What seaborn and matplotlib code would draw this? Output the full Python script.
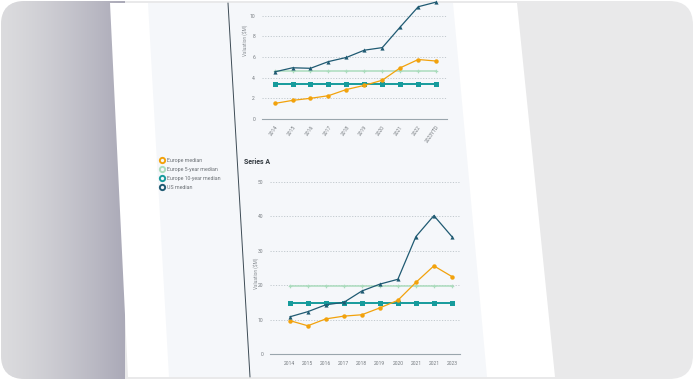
import matplotlib
matplotlib.use("Agg")
import numpy as np
import pandas as pd
import seaborn as sns
import matplotlib.pyplot as plt
from matplotlib.patches import Polygon, FancyBboxPatch
from matplotlib.lines import Line2D

# ---------------- data ----------------
series_names = ["Europe median", "Europe 5-year median", "Europe 10-year median", "US median"]

seed_years = ["2014", "2015", "2016", "2017", "2018", "2019", "2020", "2021", "2022", "2023YTD"]
seed_europe = [1.5, 1.8, 2.0, 2.25, 2.85, 3.25, 3.75, 4.95, 5.75, 5.6]
seed_europe_5y = [4.65, 4.65, 4.65, 4.65, 4.65, 4.65, 4.65, 4.65, 4.65, 4.65]
seed_europe_10y = [3.4, 3.4, 3.4, 3.4, 3.4, 3.4, 3.4, 3.4, 3.4, 3.4]
seed_us = [4.55, 4.95, 4.9, 5.55, 5.95, 6.65, 6.9, 8.9, 10.85, 11.3]
seed_yticks = [0, 2, 4, 6, 8, 10]

a_years = ["2014", "2015", "2016", "2017", "2018", "2019", "2020", "2021", "2021", "2023"]
a_europe = [9.7, 8.2, 10.2, 11.0, 11.4, 13.4, 15.6, 20.8, 25.6, 22.5]
a_europe_5y = [19.7, 19.7, 19.7, 19.7, 19.7, 19.7, 19.7, 19.7, 19.7, 19.7]
a_europe_10y = [14.8, 14.8, 14.8, 14.8, 14.8, 14.8, 14.8, 14.8, 14.8, 14.8]
a_us = [10.8, 12.3, 14.3, 15.0, 18.3, 20.3, 21.7, 34.1, 40.2, 34.1]
a_yticks = [0, 10, 20, 30, 40, 50]

panel_title = "Series A"
y_label = "Valuation ($M)"

# ---------------- styles ----------------
colors = {"Europe median": "#f2a20c", "Europe 5-year median": "#abdcbd",
          "Europe 10-year median": "#169b9c", "US median": "#1f5a72"}
markers = {"Europe median": "o", "Europe 5-year median": "P",
           "Europe 10-year median": "s", "US median": "^"}
msizes = {"Europe median": 3.2, "Europe 5-year median": 2.6,
          "Europe 10-year median": 3.6, "US median": 3.0}
lwidths = {"Europe median": 0.9, "Europe 5-year median": 1.1,
           "Europe 10-year median": 1.4, "US median": 0.9}
zorders = {"Europe median": 4, "Europe 5-year median": 2,
           "Europe 10-year median": 3, "US median": 5}


def long_df(labels, vals):
    rows = []
    for name, v in zip(series_names, vals):
        for i, (lab, y) in enumerate(zip(labels, v)):
            rows.append({"pos": i, "year": lab, "series": name, "value": y})
    return pd.DataFrame(rows)


seed_df = long_df(seed_years, [seed_europe, seed_europe_5y, seed_europe_10y, seed_us])
a_df = long_df(a_years, [a_europe, a_europe_5y, a_europe_10y, a_us])

sns.set_theme(style="white")
plt.rcParams["font.family"] = ["Roboto", "DejaVu Sans"]

W, H = 694, 380
fig = plt.figure(figsize=(W / 100, H / 100), dpi=100, facecolor="white")


def fx(px):
    return px / W


def fy(py):
    return 1 - py / H


# ---------------- background (photo of page) ----------------
bg = fig.add_axes([0, 0, 1, 1], zorder=-10)
bg.set_xlim(0, W)
bg.set_ylim(H, 0)
bg.axis("off")
frame = FancyBboxPatch((1, 1), W - 2, H - 2, boxstyle="round,pad=0,rounding_size=24",
                       fc="#e9e9ea", ec="none")
bg.add_patch(frame)
n = 120
c0 = np.array([0.86, 0.86, 0.87])
c1 = np.array([0.67, 0.665, 0.72])
t = np.linspace(0, 1, n) ** 1.3
grad = (c0[None, :] * (1 - t[:, None]) + c1[None, :] * t[:, None])[None, :, :]
im = bg.imshow(grad, extent=(0, 125, H, 0), aspect="auto", zorder=1)
im.set_clip_path(frame)
page = Polygon([(110, 3), (517, 3), (555, 377), (128, 377)], closed=True, fc="white", ec="none", zorder=2)
bg.add_patch(page)
page.set_clip_path(frame)
panel = Polygon([(148, 3), (453, 3), (487, 377), (169, 377)], closed=True, fc="#f5f7fa", ec="none", zorder=3)
bg.add_patch(panel)
bg.plot([228, 250], [3, 377], color="#3d4b55", lw=0.7, zorder=4)


def draw(ax, df, labels, yticks, ylim, xlim):
    for name in series_names:
        sub = df[df["series"] == name]
        sns.lineplot(data=sub, x="pos", y="value", ax=ax, color=colors[name],
                     marker=markers[name], markersize=msizes[name], markeredgewidth=0,
                     linewidth=lwidths[name], errorbar=None, legend=False,
                     zorder=zorders[name])
    ax.set_facecolor("none")
    ax.set_xlim(*xlim)
    ax.set_ylim(*ylim)
    ax.set_yticks(yticks)
    ax.set_yticklabels([str(v) for v in yticks])
    ax.set_xticks(range(len(labels)))
    for s in ["top", "right", "left"]:
        ax.spines[s].set_visible(False)
    ax.spines["bottom"].set_color("#9aa6ad")
    ax.spines["bottom"].set_linewidth(0.8)
    ax.grid(axis="y", color="#c2c9ce", linestyle=(0, (1.2, 1.6)), linewidth=0.7)
    ax.grid(axis="x", visible=False)
    ax.tick_params(axis="both", length=0, labelsize=3.6, labelcolor="#767b80")
    ax.tick_params(axis="y", pad=5)
    ax.set_xlabel("")
    ax.set_ylabel(y_label, fontsize=3.4, color="#8a8f94")


# ---------------- top panel ----------------
ax1 = fig.add_axes([fx(262), fy(119), fx(447) - fx(262), 119 / H])
draw(ax1, seed_df, seed_years, seed_yticks, (0, 11.5), (-0.7, 9.6))
ax1.set_xticklabels(seed_years, rotation=55, ha="right", rotation_mode="anchor")
ax1.tick_params(axis="x", pad=4)
ax1.yaxis.set_label_coords(-0.075, 0.66)

# ---------------- bottom panel ----------------
ax2 = fig.add_axes([fx(270), fy(354), fx(460) - fx(270), (354 - 175) / H])
draw(ax2, a_df, a_years, a_yticks, (0, 52), (-1.1, 9.45))
ax2.set_xticklabels(a_years)
ax2.tick_params(axis="x", pad=5)
ax2.yaxis.set_label_coords(-0.06, 0.45)
fig.text(fx(244), fy(162), panel_title, fontsize=5, fontweight="bold", color="#333a40",
         va="center", ha="left")

# ---------------- legend ----------------
handles = [Line2D([0], [0], linestyle="none", marker="o", markersize=3.8,
                  markerfacecolor="#f5f7fa", markeredgecolor=colors[nm], markeredgewidth=1.4)
           for nm in series_names]
fig.legend(handles, series_names, loc="upper left", bbox_to_anchor=(fx(160), fy(158)),
           frameon=False, fontsize=3.8, labelcolor="#6b7075", handlelength=0.8,
           handletextpad=0.6, labelspacing=0.75, borderaxespad=0, borderpad=0)

fig.savefig("out.png", dpi=100, facecolor="white")
